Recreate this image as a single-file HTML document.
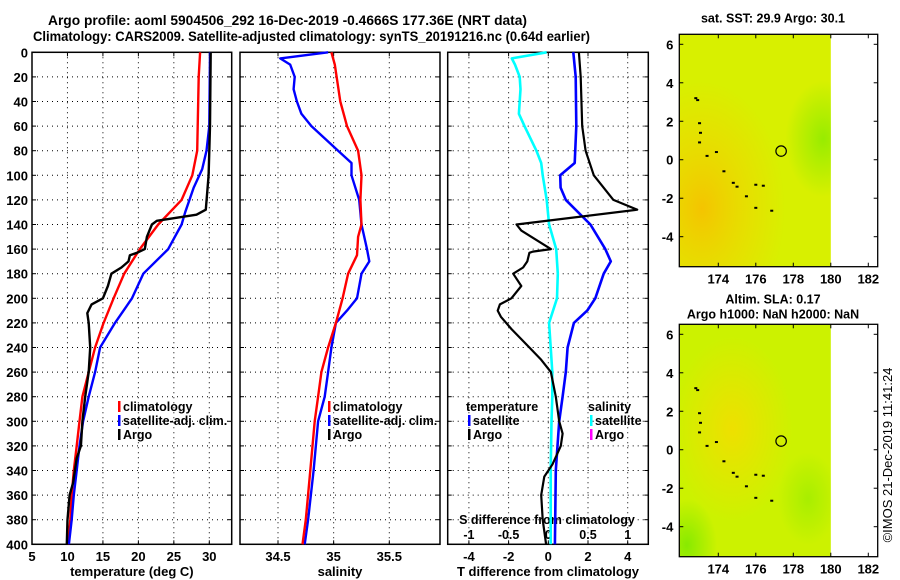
<!DOCTYPE html>
<html><head><meta charset="utf-8"><style>
body{margin:0;background:#fff;}
svg{display:block;font-family:"Liberation Sans",sans-serif;font-weight:bold;}
</style></head><body>
<svg id="c" width="900" height="580" viewBox="0 0 900 580">
<text x="48" y="25" font-size="14" textLength="479" lengthAdjust="spacingAndGlyphs">Argo profile: aoml 5904506_292 16-Dec-2019 -0.4666S 177.36E (NRT data)</text>
<text x="33" y="41" font-size="14" textLength="557" lengthAdjust="spacingAndGlyphs">Climatology: CARS2009. Satellite-adjusted climatology: synTS_20191216.nc (0.64d earlier)</text>
<defs>
<radialGradient id="or1" cx="0.15" cy="0.75" r="0.55"><stop offset="0" stop-color="#f4c400"/><stop offset="0.6" stop-color="#f0d400" stop-opacity="0.5"/><stop offset="1" stop-color="#f0d400" stop-opacity="0"/></radialGradient>
<radialGradient id="gr1" cx="0.95" cy="0.45" r="0.25"><stop offset="0" stop-color="#98ec00"/><stop offset="1" stop-color="#98ec00" stop-opacity="0"/></radialGradient>
<radialGradient id="or2" cx="0.35" cy="0.45" r="0.4"><stop offset="0" stop-color="#eee000"/><stop offset="1" stop-color="#eee000" stop-opacity="0"/></radialGradient>
<radialGradient id="gr2" cx="0.05" cy="0.95" r="0.2"><stop offset="0" stop-color="#88ea00"/><stop offset="1" stop-color="#88ea00" stop-opacity="0"/></radialGradient>
<radialGradient id="gr3" cx="0.85" cy="0.75" r="0.2"><stop offset="0" stop-color="#a8ee00"/><stop offset="1" stop-color="#a8ee00" stop-opacity="0"/></radialGradient>
</defs>
<g id="maps"></g>
<g id="plots"></g>
<text transform="translate(892,455) rotate(-90)" font-size="13" font-weight="normal" text-anchor="middle">©IMOS 21-Dec-2019 11:41:24</text>
</svg>
<script>
// ---- data ----
const tClimDepth=[0,20,80,100,120,140,160,180,200,220,240,260,280,300,320,340,360,380,400];
const tClim=[28.7,28.5,28.3,27.6,26.1,22.8,20.2,18.0,16.5,15.1,13.9,13.0,12.1,11.7,11.3,10.9,10.6,10.4,10.1];
const tSatDepth=[0,60,80,95,110,130,140,160,180,200,220,240,260,280,300,320,340,360,380,400];
const tSat=[30.1,30.0,29.6,29.0,27.8,26.6,26.1,24.2,20.7,19.1,16.7,14.6,13.9,13.0,12.2,11.7,11.3,10.9,10.6,10.2];
const tArgoDepth=[0,60,100,128,132,137,140,150,160,163,165,170,175,180,190,200,205,212,220,240,260,280,300,320,330,350,360,380,400];
const tArgo=[30.2,30.1,29.9,29.5,28.2,22.6,21.9,21.2,20.9,19.8,18.8,18.6,17.6,16.2,15.7,15.0,13.4,12.8,13.0,13.2,13.0,12.5,12.1,11.9,11.3,10.8,10.3,10.0,9.9];
const sClimDepth=[0,10,40,60,80,100,120,140,150,165,180,200,220,240,260,280,300,340,380,400];
const sClim=[34.98,35.01,35.06,35.12,35.22,35.25,35.24,35.25,35.22,35.21,35.13,35.08,35.02,34.95,34.89,34.86,34.83,34.79,34.75,34.72];
const sSatDepth=[0,5,10,20,30,40,50,60,70,80,90,100,120,140,160,170,180,200,210,220,240,260,280,300,340,380,400];
const sSat=[34.95,34.52,34.61,34.65,34.64,34.67,34.71,34.80,34.92,35.04,35.16,35.16,35.23,35.25,35.30,35.32,35.25,35.21,35.12,35.02,34.98,34.95,34.92,34.86,34.82,34.77,34.74];
const dSDepth=[0,5,10,20,30,50,60,80,90,100,120,140,160,180,200,220,240,260,280,300,340,400];
const dSSat=[-0.02,-0.46,-0.42,-0.36,-0.35,-0.37,-0.30,-0.15,-0.09,-0.07,-0.02,0.01,0.10,0.12,0.11,0.01,0.03,0.05,0.05,0.04,0.03,0.03];
const dTSatDepth=[0,20,60,90,100,110,120,140,160,170,180,200,210,220,240,260,280,300,340,400];
const dTSat=[1.26,1.38,1.41,1.33,0.60,0.62,0.88,2.12,2.87,3.15,2.79,2.37,1.96,1.29,0.97,0.88,0.72,0.55,0.38,0.33];
const dTArgoDepth=[0,20,60,80,100,120,128,140,145,160,162,163,170,175,180,190,200,205,210,215,225,240,250,260,280,300,310,320,335,345,360,380,400];
const dTArgo=[1.54,1.63,1.71,1.88,2.29,3.28,4.48,-1.6,-1.36,0.13,-0.78,-0.95,-1.06,-1.27,-1.77,-1.36,-1.86,-2.44,-2.55,-2.39,-1.86,-0.95,-0.36,0.13,0.38,0.55,0.72,0.63,0.21,-0.2,-0.36,-0.28,-0.11];
const depthTicks=[0,20,40,60,80,100,120,140,160,180,200,220,240,260,280,300,320,340,360,380,400];
const tTicks=[5,10,15,20,25,30];
const sTicks=[34.5,35,35.5];
const dtTicks=[-4,-2,0,2,4];
const dsTicks=[-1,-0.5,0,0.5,1];
const lonTicks=[174,176,178,180,182];
const latTicks=[6,4,2,0,-2,-4];

const NS='http://www.w3.org/2000/svg';
const plots=document.getElementById('plots');
function mk(tag,attrs,parent,txt){const e=document.createElementNS(NS,tag);for(const k in attrs)e.setAttribute(k,attrs[k]);if(txt!==undefined)e.textContent=txt;(parent||plots).appendChild(e);return e;}
const Y0=52.3,Y1=544.3;
const yD=d=>Y0+d*(Y1-Y0)/400;
const xT=t=>32+(t-5)*(209.3-32)/25;
const xS=s=>278+(s-34.5)*111.3;
const xDT=t=>548.3+t*19.85;
const xDS=s=>548.3+s*79.4;

function panel(name,x0,x1,xt,ticks,fmt,label,showY){
  const g=mk('g',{});
  
  
  depthTicks.forEach(d=>{
    if(d>0&&d<400){const l=mk('line',{x1:x0,x2:x1,y1:yD(d),y2:yD(d),stroke:'#000','stroke-width':1,'stroke-dasharray':'1,4'},g);
    }
    mk('line',{x1:x0,x2:x0+4,y1:yD(d),y2:yD(d),stroke:'#000'},g);
    mk('line',{x1:x1-4,x2:x1,y1:yD(d),y2:yD(d),stroke:'#000'},g);
    if(showY){const t=mk('text',{x:x0-4,y:yD(d)+5,'font-size':13,'text-anchor':'end'},g,String(d));
      }
  });
  ticks.forEach(v=>{
    const x=xt(v);
    if(x>x0+1&&x<x1-1){mk('line',{x1:x,x2:x,y1:Y0,y2:Y1,stroke:'#000','stroke-dasharray':'1,4'},g);}
    mk('line',{x1:x,x2:x,y1:Y1,y2:Y1-4,stroke:'#000'},g);
    mk('line',{x1:x,x2:x,y1:Y0,y2:Y0+4,stroke:'#000'},g);
    const t=mk('text',{x:x,y:561,'font-size':13,'text-anchor':'middle'},g,fmt(v));
    
  });
  mk('rect',{x:x0,y:Y0,width:x1-x0,height:Y1-Y0,fill:'none',stroke:'#000','stroke-width':1.5},g);
  const lt=mk('text',{x:(x0+x1)/2,y:576,'font-size':13,'text-anchor':'middle'},g,label);
  
  return g;
}
function line(name,depths,vals,xf,color,w){
  const pts=depths.map((d,i)=>xf(vals[i]).toFixed(1)+','+yD(d).toFixed(1)).join(' ');
  const p=mk('polyline',{points:pts,fill:'none',stroke:color,'stroke-width':w,'stroke-linejoin':'round'});
  
  
}
function legend(name,x,y,items){
  const g=mk('g',{});
  
  
  items.forEach((it,i)=>{
    const yy=y+i*14;
    if(it[1])mk('rect',{x:x,y:yy-10,width:2.5,height:11,fill:it[1]},g);
    const t=mk('text',{x:x+(it[1]?5:-2),y:yy,'font-size':12.5},g,it[0]);
    
  });
}
panel('temperature-panel',32,231.7,xT,tTicks,String,'temperature (deg C)',true);
panel('salinity-panel',240,440,xS,sTicks,v=>String(v),'salinity',false);
panel('difference-panel',447.7,648.3,xDT,dtTicks,v=>String(v),'T difference from climatology',false);
const sdt=mk('text',{x:547,y:524,'font-size':12.5,'text-anchor':'middle'},plots,'S difference from climatology');


dsTicks.forEach(v=>{const t=mk('text',{x:xDS(v),y:539,'font-size':12.5,'text-anchor':'middle'},plots,String(v));

});

line('temp-climatology-line',tClimDepth,tClim,xT,'#ff0000',2.4);
line('temp-satellite-line',tSatDepth,tSat,xT,'#0000ff',2.4);
line('temp-argo-line',tArgoDepth,tArgo,xT,'#000',2.4);
line('sal-satellite-line',sSatDepth,sSat,xS,'#0000ff',2.4);
line('sal-climatology-line',sClimDepth,sClim,xS,'#ff0000',2.4);
line('sdiff-satellite-line',dSDepth,dSSat,xDS,'#00ffff',2.6);
line('tdiff-satellite-line',dTSatDepth,dTSat,xDT,'#0000ff',2.6);
line('tdiff-argo-line',dTArgoDepth,dTArgo,xDT,'#000',2.2);

legend('temperature-legend',118,411,[['climatology','#ff0000'],['satellite-adj. clim.','#0000ff'],['Argo','#000']]);
legend('salinity-legend',328,411,[['climatology','#ff0000'],['satellite-adj. clim.','#0000ff'],['Argo','#000']]);
legend('tdiff-legend',468,411,[['temperature',null],['satellite','#0000ff'],['Argo','#000']]);
legend('sdiff-legend',590,411,[['salinity',null],['satellite','#00ffff'],['Argo','#ff00ff']]);

// ---- maps ----
const maps=document.getElementById('maps');
const MX0=679.3,MX1=877.7,lonX=l=>718.3+(l-174)*18.75;
const coast=[[172.8,3.2],[172.9,3.1],[173.0,1.9],[173.05,1.4],[173.0,0.9],[173.4,0.2],[173.9,0.4],[174.3,-0.6],[174.8,-1.2],[175.0,-1.4],[175.5,-1.9],[176.0,-1.3],[176.4,-1.35],[176.0,-2.5],[176.85,-2.65]];
function map(name,y0,y1,title,bg,grads){
  const g=mk('g',{},maps);
  
  
  const latY=l=>y0+10+(6-l)*19.24;
  const x180=lonX(180);
  mk('rect',{x:MX0,y:y0,width:x180-MX0,height:y1-y0,fill:bg},g);
  grads.forEach(id=>mk('rect',{x:MX0,y:y0,width:x180-MX0,height:y1-y0,fill:'url(#'+id+')'},g));
  coast.forEach(c=>mk('rect',{x:lonX(c[0])-1.5,y:latY(c[1])-1,width:3,height:2,fill:'#000'},g));
  const ci=mk('circle',{cx:lonX(177.35),cy:latY(0.45),r:5.2,fill:'none',stroke:'#000','stroke-width':1.2},g);
  
  mk('rect',{x:MX0,y:y0,width:MX1-MX0,height:y1-y0,fill:'none',stroke:'#000','stroke-width':1.3},g);
  lonTicks.forEach(l=>{const x=lonX(l);mk('line',{x1:x,x2:x,y1:y1,y2:y1-4,stroke:'#000'},g);mk('line',{x1:x,x2:x,y1:y0,y2:y0+4,stroke:'#000'},g);
    const t=mk('text',{x:x,y:y1+17,'font-size':13,'text-anchor':'middle'},g,String(l));});
  latTicks.forEach(l=>{const y=latY(l);mk('line',{x1:MX0,x2:MX0+4,y1:y,y2:y,stroke:'#000'},g);mk('line',{x1:MX1-4,x2:MX1,y1:y,y2:y,stroke:'#000'},g);
    const t=mk('text',{x:MX0-6,y:y+5,'font-size':13,'text-anchor':'end'},g,String(l));});
  title.forEach((s,i)=>{const t=mk('text',{x:773,y:y0-(title.length-1-i)*15-(title.length===1?12:6),'font-size':12.5,'text-anchor':'middle'},g,s);});
}
map('sst-map',34.3,266.7,['sat. SST: 29.9 Argo: 30.1'],'#d8f000',['or1','gr1']);
map('sla-map',324.3,556.7,['Altim. SLA: 0.17','Argo h1000: NaN h2000: NaN'],'#ccf200',['or2','gr2','gr3']);
</script>
</body></html>
